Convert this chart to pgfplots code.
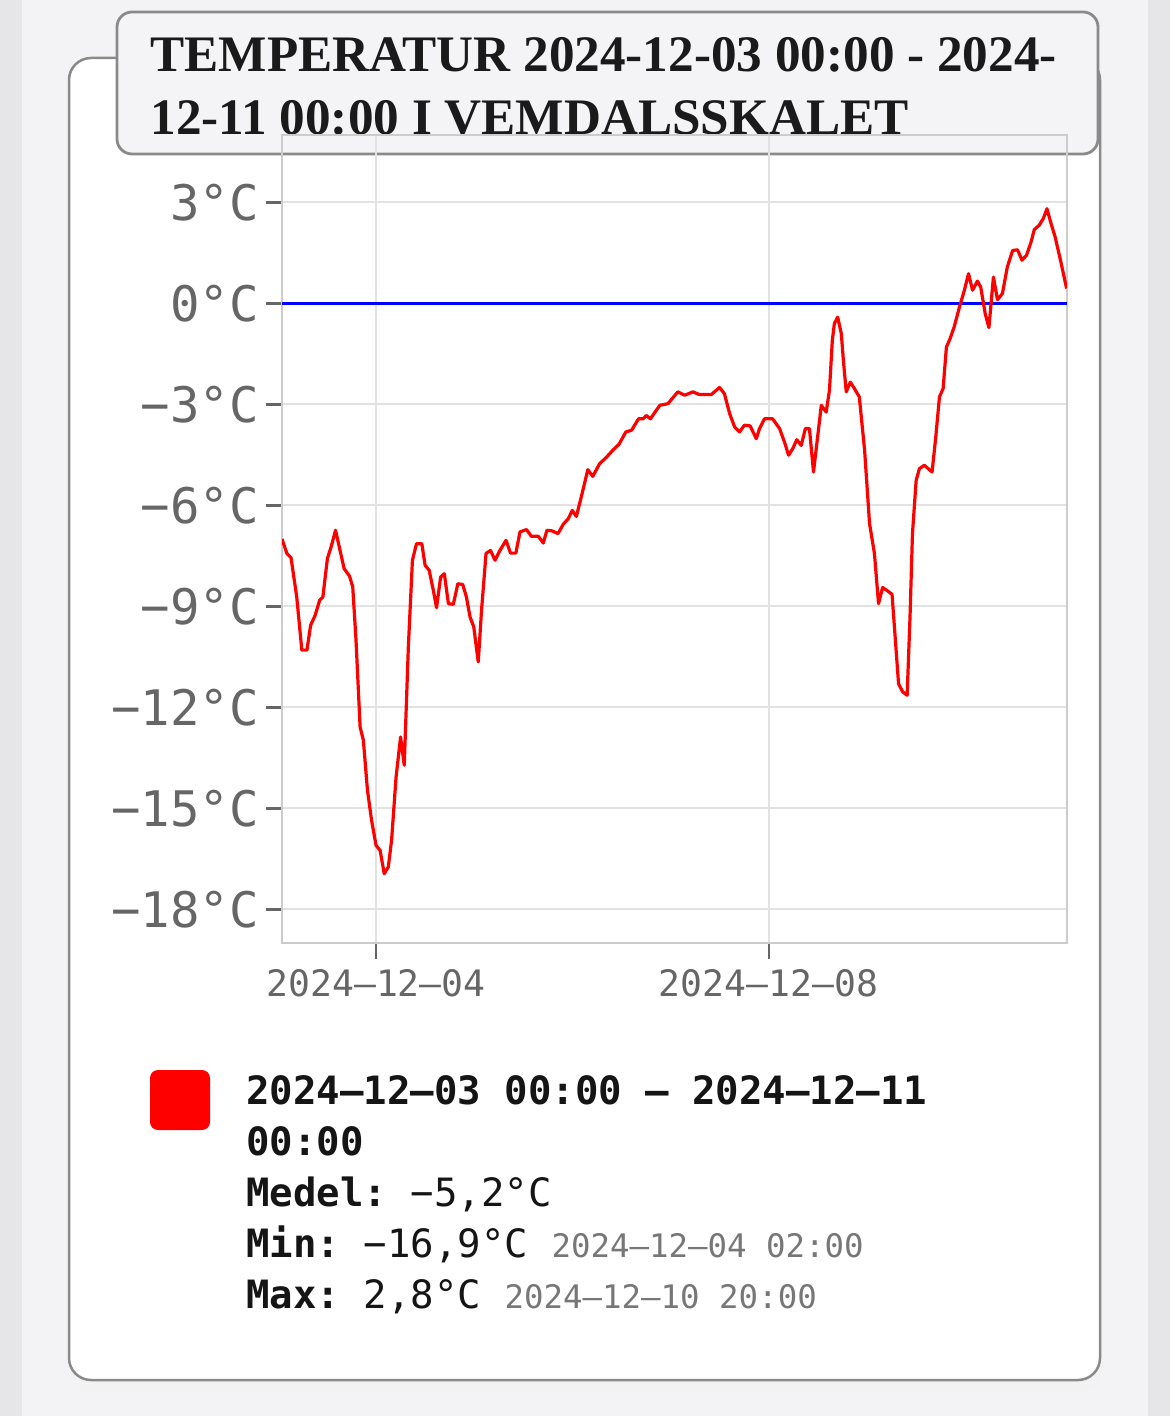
\documentclass[border=0pt]{standalone}
\usepackage{fontspec}
\usepackage{pgfplots}
\pgfplotsset{compat=1.18}
\setmainfont{Liberation Serif}
\newfontfamily\mono{DejaVu Sans Mono}
\definecolor{pagebg}{HTML}{F3F3F5}
\definecolor{stripbg}{HTML}{E6E6E8}
\definecolor{cardborder}{HTML}{8A8A8A}
\definecolor{titlebg}{HTML}{F4F4F6}
\definecolor{titletext}{HTML}{1A1A1A}
\definecolor{ticktext}{HTML}{666666}
\definecolor{gridc}{HTML}{E2E2E2}
\definecolor{spine}{HTML}{CCCCCC}
\definecolor{graytext}{HTML}{777777}
\definecolor{legtext}{HTML}{151515}
\begin{document}
\frenchspacing
\begin{tikzpicture}[x=0.5pt,y=-0.5pt]
\path[use as bounding box] (0,0) rectangle (1170,1416);
\fill[pagebg] (0,0) rectangle (1170,1416);
\fill[stripbg] (0,0) rectangle (22,1416);
\fill[stripbg] (1148,0) rectangle (1170,1416);
\fill[black!5, rounded corners=11pt] (71,66) rectangle (1102,1392);
\filldraw[fill=white, draw=cardborder, line width=1.25pt, rounded corners=11pt] (69,58) rectangle (1100,1380);
\filldraw[fill=titlebg, draw=cardborder, line width=1.4pt, rounded corners=7.5pt] (117,12) rectangle (1098,154);
\node[anchor=base west, inner sep=0, font=\bfseries\fontsize{25.6}{31.5}\selectfont, text=titletext] at (150,72) {TEMPERATUR 2024-12-03 00:00 - 2024-};
\node[anchor=base west, inner sep=0, font=\bfseries\fontsize{25.6}{31.5}\selectfont, text=titletext] at (150,135) {12-11 00:00 I VEMDALSSKALET};
\begin{axis}[
  at={(141pt,-471.5pt)}, anchor=south west,
  width=392.5pt, height=404pt, scale only axis,
  xmin=1, xmax=193, ymin=-19, ymax=5,
  xtick={24,120}, xticklabels={2024–12–04,2024–12–08},
  ytick={-18,-15,-12,-9,-6,-3,0,3},
  yticklabels={−18°C,−15°C,−12°C,−9°C,−6°C,−3°C,0°C,3°C},
  xtick pos=bottom, ytick pos=left,
  tick align=outside, major tick length=8pt,
  every tick/.style={draw=ticktext, line width=1.2pt},
  xtick style={draw=ticktext, line width=1pt},
  xticklabel style={font=\mono\fontsize{18.2}{18.2}\selectfont, text=ticktext, yshift=-1.5pt},
  yticklabel style={font=\mono\fontsize{24.5}{24.5}\selectfont, text=ticktext},
  grid=major, grid style={draw=gridc, line width=1pt},
  axis line style={draw=spine, line width=1pt},
  clip=true,
]
\addplot[blue, line width=1.4pt] coordinates {(1,0) (193,0)};
\addplot[red, line width=1.6pt, line join=round] coordinates {
(1,-7.0) (2.2,-7.43) (3.2,-7.55) (4.6,-8.72) (5.85,-10.3) (7.1,-10.3) (8.0,-9.56) (9.1,-9.27)
(10.2,-8.82) (11,-8.72) (12.1,-7.58) (13,-7.24) (14.1,-6.74) (15.2,-7.34) (16.2,-7.88) (17.5,-8.1)
(18.3,-8.42) (19.1,-10.0) (20.1,-12.58) (20.9,-12.98) (21.9,-14.46) (22.9,-15.35) (24,-16.1) (25,-16.25)
(26,-16.94) (27,-16.74) (27.8,-15.95) (28.9,-14.07) (30,-12.88) (30.9,-13.72) (31.9,-10.21) (32.9,-7.63)
(33.9,-7.14) (35.2,-7.14) (36,-7.78) (37,-7.93) (38,-8.52) (38.8,-9.04) (39.8,-8.13) (40.7,-8.03)
(41.7,-8.92) (42.9,-8.94) (44,-8.33) (45.2,-8.35) (46.1,-8.72) (47,-9.32) (47.9,-9.61) (49,-10.65)
(49.8,-9.12) (50.9,-7.43) (52,-7.34) (53.1,-7.63) (54.3,-7.34) (55.8,-7.04) (56.9,-7.42) (58.2,-7.42)
(59.2,-6.79) (60.8,-6.72) (62,-6.92) (63.7,-6.92) (64.9,-7.12) (65.8,-6.74) (67.1,-6.76) (68.5,-6.84)
(69.8,-6.56) (71,-6.4) (72,-6.15) (73,-6.33) (74.2,-5.75) (75.8,-4.94) (77,-5.14) (78.7,-4.76)
(80.3,-4.58) (82,-4.35) (83.4,-4.19) (85.1,-3.82) (86.5,-3.77) (88.2,-3.43) (89.3,-3.43) (90.1,-3.33)
(91.1,-3.43) (93.4,-3.03) (95.4,-2.98) (97.8,-2.63) (99.5,-2.73) (101.5,-2.63) (103.1,-2.71) (106,-2.71)
(108,-2.5) (109.2,-2.68) (110.5,-3.28) (111.7,-3.67) (112.9,-3.82) (114.1,-3.62) (115.5,-3.64) (117,-4.02)
(117.8,-3.72) (119,-3.43) (121,-3.43) (122.7,-3.72) (123.9,-4.12) (124.9,-4.51) (125.9,-4.32) (126.9,-4.05)
(128,-4.22) (129,-3.72) (130,-3.72) (131,-5.01) (132,-3.97) (132.9,-3.03) (134.1,-3.23) (134.9,-2.58)
(135.6,-1.1) (136.1,-0.6) (136.9,-0.41) (137.8,-0.9) (138.3,-1.69) (139,-2.63) (140,-2.34) (141,-2.53)
(142.2,-2.78) (143.5,-4.37) (144.7,-6.54) (145.9,-7.43) (146.9,-8.92) (147.9,-8.44) (149.1,-8.54) (150.2,-8.64)
(151.2,-10.3) (151.8,-11.3) (152.8,-11.54) (153.9,-11.64) (154.6,-9.32) (155.2,-6.84) (156.1,-5.26) (156.9,-4.91)
(158.1,-4.81) (160,-5.01) (160.9,-3.97) (161.8,-2.78) (162.7,-2.53) (163.5,-1.3) (164.4,-1.05) (165.4,-0.7)
(166.7,-0.11) (167.9,0.39) (168.9,0.88) (169.9,0.39) (171.1,0.66) (171.9,0.48) (173,-0.31) (173.9,-0.72)
(175,0.78) (176.0,0.11) (177.2,0.29) (178.4,1.08) (179.7,1.57) (180.9,1.59) (182.0,1.28) (183.1,1.43)
(184.2,1.82) (185.0,2.19) (186.2,2.32) (187.2,2.52) (188.1,2.81) (189.0,2.41) (190.1,1.97) (191.5,1.23)
(192.9,0.44)
};
\end{axis}
\fill[red, rounded corners=4pt] (150,1070) rectangle (210,1130);
\begin{scope}[every node/.style={anchor=base west, inner sep=0, text=legtext, font=\mono\fontsize{19.5}{24}\selectfont\frenchspacing}]
\node at (246,1104) {\bfseries 2024–12–03 00:00 – 2024–12–11};
\node at (246,1155) {\bfseries 00:00};
\node at (246,1206) {{\bfseries Medel:} −5,2°C};
\node at (246,1257) {{\bfseries Min:} −16,9°C {\color{graytext}\fontsize{16.2}{20}\selectfont 2024–12–04 02:00}};
\node at (246,1308) {{\bfseries Max:} 2,8°C {\color{graytext}\fontsize{16.2}{20}\selectfont 2024–12–10 20:00}};
\end{scope}
\end{tikzpicture}
\end{document}
